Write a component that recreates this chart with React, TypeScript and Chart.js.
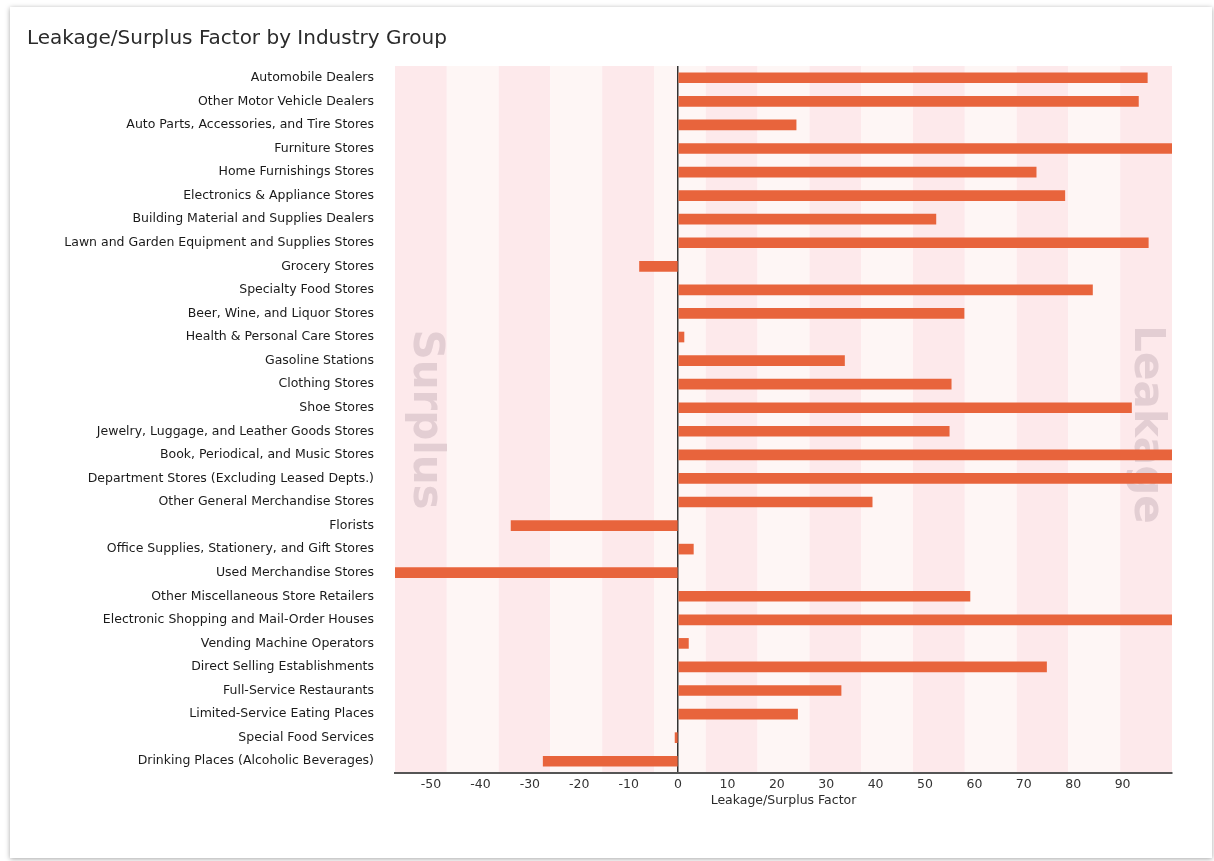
import { useEffect, useRef } from 'react';
import { Chart, registerables } from 'chart.js';

Chart.register(...registerables);

const TITLE = 'Leakage/Surplus Factor by Industry Group';
const X_TITLE = 'Leakage/Surplus Factor';

const CATEGORIES = [
  'Automobile Dealers',
  'Other Motor Vehicle Dealers',
  'Auto Parts, Accessories, and Tire Stores',
  'Furniture Stores',
  'Home Furnishings Stores',
  'Electronics & Appliance Stores',
  'Building Material and Supplies Dealers',
  'Lawn and Garden Equipment and Supplies Stores',
  'Grocery Stores',
  'Specialty Food Stores',
  'Beer, Wine, and Liquor Stores',
  'Health & Personal Care Stores',
  'Gasoline Stations',
  'Clothing Stores',
  'Shoe Stores',
  'Jewelry, Luggage, and Leather Goods Stores',
  'Book, Periodical, and Music Stores',
  'Department Stores (Excluding Leased Depts.)',
  'Other General Merchandise Stores',
  'Florists',
  'Office Supplies, Stationery, and Gift Stores',
  'Used Merchandise Stores',
  'Other Miscellaneous Store Retailers',
  'Electronic Shopping and Mail-Order Houses',
  'Vending Machine Operators',
  'Direct Selling Establishments',
  'Full-Service Restaurants',
  'Limited-Service Eating Places',
  'Special Food Services',
  'Drinking Places (Alcoholic Beverages)',
];

const FACTOR_VALUES = [
  95.0, 93.2, 23.9, 100, 72.5, 78.3, 52.2, 95.2, -7.8, 83.9,
  57.9, 1.2, 33.7, 55.3, 91.8, 54.9, 100, 100, 39.3, -33.8,
  3.1, -57.3, 59.1, 100, 2.1, 74.6, 33.0, 24.2, -0.6, -27.3,
];

const X_TICK_VALUES = [-50, -40, -30, -20, -10, 0, 10, 20, 30, 40, 50, 60, 70, 80, 90];
const X_TICK_LABELS = ['-50', '-40', '-30', '-20', '-10', '0', '10', '20', '30', '40', '50', '60', '70', '80', '90'];
const X_MIN = -57.3;
const X_MAX = 100;
const BAND_COUNT = 15;
const WATERMARKS = ['Surplus', 'Leakage'];

const FONT = '"DejaVu Sans", Verdana, sans-serif';

const bandPlugin = {
  id: 'bandsAndWatermarks',
  beforeDraw(chart: any) {
    const { ctx, chartArea } = chart;
    const xs = chart.scales.x;
    const step = (X_MAX - X_MIN) / BAND_COUNT;
    ctx.save();
    for (let k = 0; k < BAND_COUNT; k++) {
      const a = xs.getPixelForValue(X_MIN + k * step);
      const b = xs.getPixelForValue(X_MIN + (k + 1) * step);
      ctx.fillStyle = k % 2 === 0 ? '#fde9eb' : '#fef6f5';
      ctx.fillRect(a, chartArea.top, b - a, chartArea.bottom - chartArea.top);
    }
    const cy = (chartArea.top + chartArea.bottom) / 2;
    ctx.fillStyle = '#e3ced3';
    ctx.font = `bold 42px ${FONT}`;
    ctx.textAlign = 'center';
    ctx.textBaseline = 'middle';
    const pos = [chartArea.left + 30, chartArea.right - 26];
    WATERMARKS.forEach((w, i) => {
      ctx.save();
      ctx.translate(pos[i], cy + (i === 1 ? 5 : 0));
      ctx.rotate(Math.PI / 2);
      ctx.fillText(w, 0, 0);
      ctx.restore();
    });
    ctx.restore();
  },
};

export default function App() {
  const ref = useRef<HTMLCanvasElement | null>(null);

  useEffect(() => {
    if (!ref.current) return;
    const chart = new Chart(ref.current, {
      type: 'bar',
      data: {
        labels: CATEGORIES,
        datasets: [
          {
            data: FACTOR_VALUES,
            backgroundColor: '#e8643c',
            borderWidth: 0,
            barThickness: 10,
          },
        ],
      },
      options: {
        indexAxis: 'y',
        animation: false,
        responsive: false,
        devicePixelRatio: 1,
        layout: { padding: { left: 17, right: 40, top: 0, bottom: 50 } },
        plugins: {
          legend: { display: false },
          tooltip: { enabled: false },
          title: {
            display: true,
            text: TITLE,
            align: 'start',
            color: '#2a2a2a',
            font: { family: FONT, size: 20, weight: 'normal', lineHeight: 1.2 },
            padding: { top: 19.5, bottom: 15.5 },
          },
        },
        scales: {
          x: {
            type: 'linear',
            min: X_MIN,
            max: X_MAX,
            afterBuildTicks: (scale: any) => {
              scale.ticks = X_TICK_VALUES.map((v) => ({ value: v }));
            },
            afterFit: (scale: any) => {
              scale.height = 35;
            },
            grid: {
              display: true,
              drawTicks: false,
              color: (c: any) => (c.tick && c.tick.value === 0 ? '#333' : 'rgba(0,0,0,0)'),
              lineWidth: 1.5,
            },
            border: { display: true, color: '#555', width: 2 },
            ticks: {
              padding: 4,
              color: '#333',
              font: { family: FONT, size: 12.5 },
              maxRotation: 0,
              autoSkip: false,
              callback: (v: any) => {
                const i = X_TICK_VALUES.indexOf(Number(v));
                return i >= 0 ? X_TICK_LABELS[i] : '';
              },
            },
            title: {
              display: true,
              text: X_TITLE,
              color: '#2a2a2a',
              font: { family: FONT, size: 12.5, lineHeight: 1.2 },
              padding: { top: 0, bottom: 0 },
            },
          },
          y: {
            afterFit: (scale: any) => {
              scale.width = 368;
            },
            grid: { display: false },
            border: { display: false },
            ticks: {
              autoSkip: false,
              padding: 13,
              color: '#1a1a1a',
              font: { family: FONT, size: 12.5 },
            },
          },
        },
      },
      plugins: [bandPlugin],
    } as any);
    return () => chart.destroy();
  }, []);

  return (
    <div style={{ position: 'fixed', left: 0, top: 0, width: 1214, height: 861, background: '#fff' }}>
      <div
        style={{
          position: 'absolute',
          left: 10,
          top: 7,
          width: 1202,
          height: 851,
          background: '#fff',
          boxShadow: '0 1px 5px rgba(0,0,0,0.35)',
        }}
      >
        <canvas ref={ref} width={1202} height={851} style={{ display: 'block', width: 1202, height: 851 }} />
      </div>
    </div>
  );
}
